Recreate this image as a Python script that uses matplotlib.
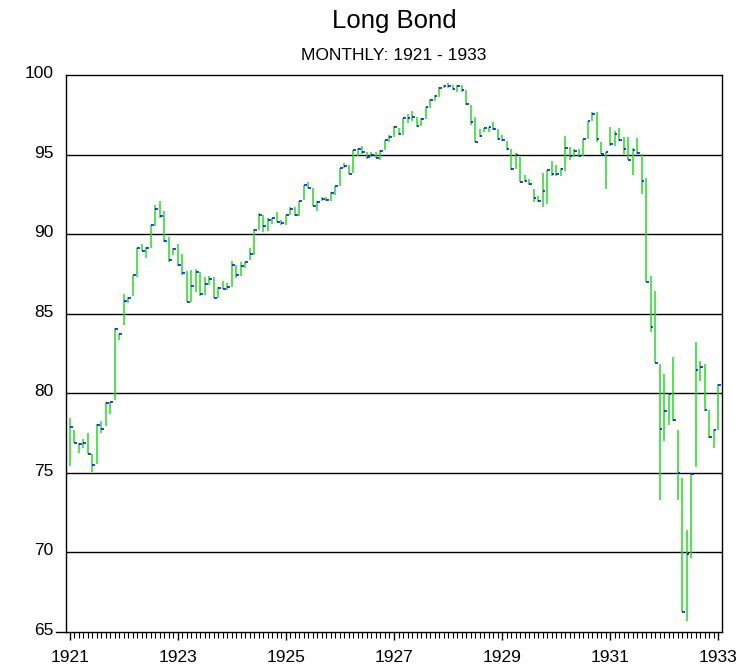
import numpy as np
import matplotlib
matplotlib.use('Agg')
import matplotlib.pyplot as plt
import matplotlib.transforms as mtransforms
from matplotlib.ticker import MultipleLocator

plt.rcParams['font.family'] = ['Liberation Sans', 'DejaVu Sans']

# Monthly high / low / close, Jan 1921 - Jan 1933
start_year = 1921
highs = [78.43, 77.67, 76.90, 77.10, 77.53, 76.20, 78.07, 78.26, 79.48, 79.43, 84.09, 83.75,
         86.23, 86.06, 87.46, 89.14, 89.41, 89.20, 90.59, 91.82, 92.10, 91.43, 89.79, 89.16,
         89.37, 88.78, 87.69, 87.75, 87.80, 87.63, 87.30, 87.38, 87.30, 86.67, 87.07, 86.96,
         88.30, 88.03, 88.26, 88.26, 89.10, 90.31, 91.32, 91.20, 91.00, 91.03, 91.40, 90.90,
         91.20, 91.70, 91.68, 92.10, 93.10, 93.25, 92.90, 92.06, 92.36, 92.32, 92.65, 93.05,
         94.14, 94.45, 94.35, 95.27, 95.40, 95.55, 95.15, 95.19, 95.15, 95.27, 95.92, 96.24,
         96.80, 96.66, 97.29, 97.54, 97.75, 97.39, 97.29, 97.98, 98.48, 98.75, 99.26, 99.37,
         99.48, 99.37, 99.37, 99.37, 99.06, 98.11, 97.38, 96.60, 96.69, 96.75, 97.06, 96.60,
         96.23, 95.85, 95.35, 95.07, 94.86, 93.71, 93.46, 92.83, 92.41, 93.83, 94.01, 94.58,
         94.33, 94.14, 96.17, 95.50, 95.36, 95.36, 95.99, 97.10, 97.68, 97.68, 95.82, 95.19,
         96.76, 96.45, 96.68, 96.09, 96.09, 95.40, 96.01, 95.04, 93.51, 87.34, 86.43, 81.85,
         81.21, 79.94, 82.28, 77.70, 74.66, 71.38, 74.94, 83.23, 82.06, 81.81, 78.98, 77.77,
         80.57]
lows = [75.45, 76.90, 76.25, 76.56, 76.16, 75.03, 75.53, 77.50, 77.93, 78.72, 79.56, 83.33,
        84.28, 85.70, 86.12, 87.32, 88.97, 88.53, 89.16, 90.50, 90.99, 89.50, 88.26, 88.66,
        88.00, 87.42, 85.72, 85.76, 86.39, 86.14, 86.18, 86.79, 85.96, 85.96, 86.54, 86.50,
        86.67, 87.23, 87.34, 87.86, 88.39, 88.66, 90.27, 90.15, 90.17, 90.65, 90.78, 90.57,
        90.57, 91.20, 91.11, 91.15, 92.16, 92.90, 91.78, 91.46, 92.06, 92.11, 92.11, 92.46,
        93.05, 94.14, 93.76, 93.83, 94.92, 95.02, 94.73, 94.87, 94.77, 94.64, 95.31, 95.82,
        96.09, 96.24, 96.24, 96.97, 97.12, 96.76, 96.82, 97.24, 97.91, 98.38, 98.63, 99.16,
        99.16, 99.06, 98.95, 98.95, 98.11, 96.86, 95.77, 96.12, 96.44, 96.44, 96.54, 95.91,
        95.85, 95.28, 94.03, 94.09, 93.25, 93.25, 93.08, 92.03, 92.03, 91.72, 91.88, 93.66,
        93.66, 93.66, 93.97, 94.66, 94.83, 94.87, 94.92, 95.96, 97.14, 95.82, 95.02, 92.82,
        95.57, 95.57, 95.88, 95.04, 94.64, 93.72, 95.04, 92.55, 87.00, 83.87, 81.91, 73.30,
        77.00, 77.98, 78.28, 73.30, 66.28, 65.72, 69.62, 75.36, 80.79, 78.87, 77.21, 76.57,
        77.70]
closes = [77.88, 76.90, 76.83, 76.90, 76.20, 75.47, 78.03, 77.78, 79.41, 79.43, 84.05, 83.71,
          85.79, 85.99, 87.42, 89.10, 88.97, 89.16, 90.55, 91.59, 91.13, 89.60, 88.36, 89.04,
          88.03, 87.57, 85.72, 86.74, 87.65, 86.23, 86.86, 87.17, 86.00, 86.60, 86.58, 86.71,
          88.03, 87.42, 87.97, 88.22, 88.74, 90.27, 91.20, 90.52, 90.86, 90.99, 90.78, 90.69,
          91.20, 91.57, 91.20, 92.07, 93.08, 92.93, 91.78, 92.02, 92.19, 92.13, 92.57, 93.05,
          94.14, 94.31, 93.76, 95.27, 95.36, 95.15, 94.87, 94.98, 94.77, 95.25, 95.90, 96.13,
          96.76, 96.30, 97.29, 97.29, 97.35, 96.80, 97.24, 97.96, 98.40, 98.71, 99.21, 99.31,
          99.31, 99.10, 99.31, 99.06, 98.16, 97.06, 95.77, 96.16, 96.65, 96.71, 96.60, 95.95,
          95.89, 95.35, 94.07, 94.97, 93.25, 93.33, 93.12, 92.24, 92.08, 92.70, 94.00, 93.76,
          93.76, 94.08, 95.40, 94.90, 95.23, 94.90, 95.96, 97.08, 97.52, 95.96, 95.06, 95.15,
          95.65, 96.30, 95.94, 95.34, 94.64, 95.27, 95.08, 93.33, 87.00, 84.19, 81.91, 77.74,
          78.91, 79.94, 78.30, 74.96, 66.28, 69.89, 74.94, 81.49, 81.64, 78.94, 77.26, 77.72,
          80.51]

dates = start_year + np.arange(len(highs)) / 12.0

fig = plt.figure(figsize=(7.39, 6.66), dpi=100)
ax = fig.add_axes([66 / 739, 1 - 632 / 666, (722 - 66) / 739, (632 - 75) / 666])

# gridlines
for level in [70, 75, 80, 85, 90, 95]:
    ax.axhline(level, color='black', lw=1.0, zorder=1)

# high-low bars with close tick
ax.vlines(dates, lows, highs, color='#22dd22', lw=1.1, zorder=2)
ax.hlines(closes, dates, dates + 0.6 / 12, color='#0000ff', lw=1.1, zorder=3)

ax.set_xlim(1920.926, 1933.074)
ax.set_ylim(65, 100)

ax.set_yticks([65, 70, 75, 80, 85, 90, 95, 100])
ax.tick_params(axis='y', length=0, pad=9, labelsize=12.5)
# labels sit a few pixels above their gridline
shift = mtransforms.ScaledTranslation(0, 3 / 100, fig.dpi_scale_trans)
for lbl in ax.get_yticklabels():
    lbl.set_transform(lbl.get_transform() + shift)
ax.set_xticks(range(1921, 1934, 2))
ax.xaxis.set_minor_locator(MultipleLocator(1 / 12))
ax.tick_params(axis='x', which='major', length=6, width=1, labelsize=12.5, pad=7)
ax.tick_params(axis='x', which='minor', length=4, width=0.8)

for side in ['left', 'right', 'top', 'bottom']:
    ax.spines[side].set_color('black')
    ax.spines[side].set_linewidth(1.0)

# bottom axis line sticks out to the left a bit
ax.plot([-0.016, 0], [0, 0], transform=ax.transAxes, color='black', lw=1.0, clip_on=False)

fig.text(394 / 739, 1 - 21 / 666, 'Long Bond', ha='center', va='center', fontsize=18.5)
fig.text(394 / 739, 1 - 56 / 666, 'MONTHLY: 1921 - 1933', ha='center', va='center', fontsize=12.5)

fig.savefig('out.png', dpi=100)
